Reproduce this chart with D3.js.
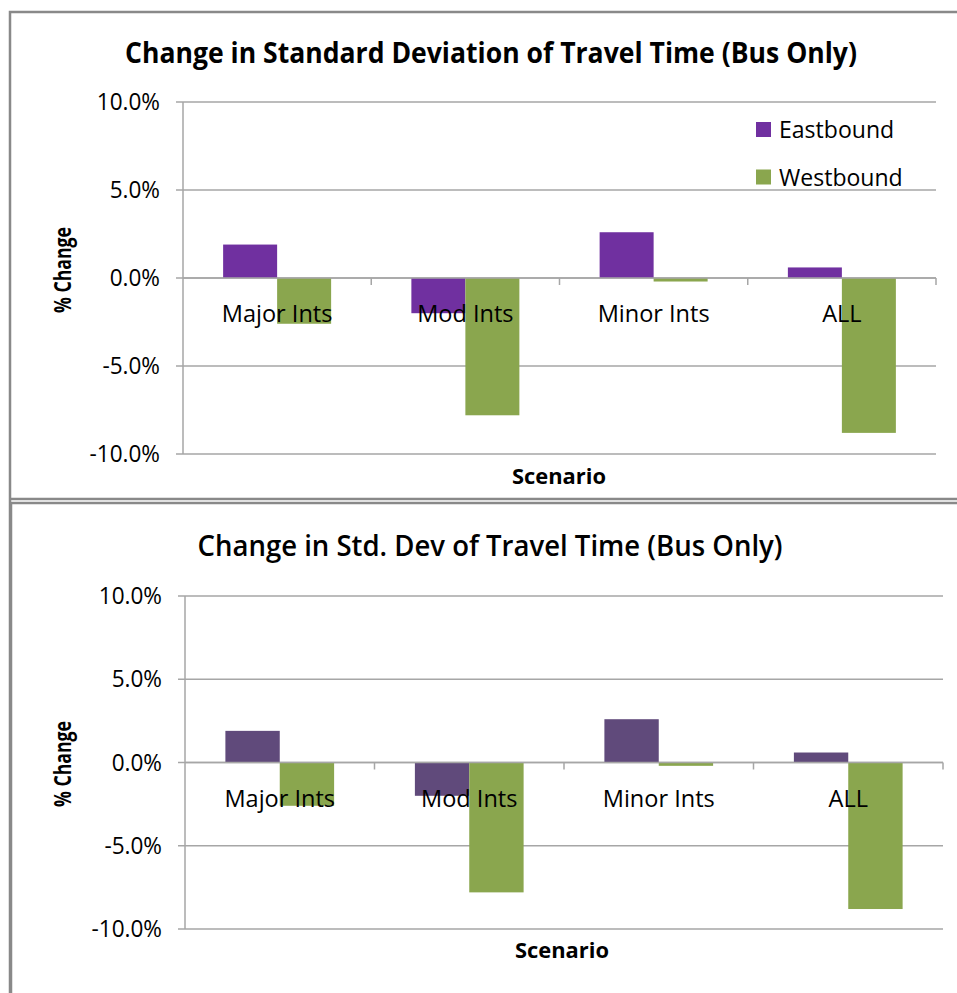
<!DOCTYPE html>
<html>
<head>
<meta charset="utf-8">
<script src="https://cdn.jsdelivr.net/npm/d3@7/dist/d3.min.js"></script>
<style>
  html, body { margin: 0; padding: 0; background: #fff; }
  svg { display: block; }
  text { font-family: "Open Sans", "DejaVu Sans", sans-serif; fill: #000; }
</style>
</head>
<body>
<svg id="chart" width="957" height="993"></svg>
<script>
// ---- Data ----
const categories = ["Major Ints", "Mod Ints", "Minor Ints", "ALL"];
const seriesNames = ["Eastbound", "Westbound"];
const eastbound = [1.9, -2.0, 2.6, 0.6];
const westbound = [-2.6, -7.8, -0.2, -8.8];
const yTicks = [10, 5, 0, -5, -10];
const yDomain = [-10, 10];
const titles = ["Change in Standard Deviation of Travel Time (Bus Only)",
                "Change in Std. Dev of Travel Time (Bus Only)"];
const yAxisTitle = "% Change";
const xAxisTitle = "Scenario";

const svg = d3.select("#chart");
const fmt = d3.formatLocale({ decimal: ".", thousands: ",", grouping: [3], currency: ["", ""], minus: "-" }).format(".1f");

function fit(sel, w) {
  sel.attr("textLength", w).attr("lengthAdjust", "spacingAndGlyphs");
}
function condense(sel, k) {
  sel.each(function () {
    const n = this.getComputedTextLength();
    d3.select(this).attr("textLength", n * k).attr("lengthAdjust", "spacingAndGlyphs");
  });
}

function drawChart(cfg) {
  const g = svg.append("g");
  // frame
  g.append("path")
    .attr("d", cfg.framePath)
    .attr("fill", "none").attr("stroke", "#898989").attr("stroke-width", 2.5);

  const x0 = d3.scaleBand().domain(categories).range([cfg.left, cfg.right]).paddingInner(0).paddingOuter(0);
  const inner = d3.scaleBand().domain(seriesNames).range([0, x0.bandwidth()]).paddingInner(0).paddingOuter(0.743);
  const y = d3.scaleLinear().domain(yDomain).range([cfg.bottom, cfg.top]);

  // gridlines
  g.append("g").selectAll("line").data(yTicks).join("line")
    .attr("x1", cfg.left - 7).attr("x2", cfg.right)
    .attr("y1", d => y(d)).attr("y2", d => y(d))
    .attr("stroke", "#a6a6a6").attr("stroke-width", 1.5);

  // y axis line
  g.append("line").attr("x1", cfg.left).attr("x2", cfg.left)
    .attr("y1", cfg.top).attr("y2", cfg.bottom)
    .attr("stroke", "#a6a6a6").attr("stroke-width", 1.5);

  // y tick labels
  const yl = g.append("g").selectAll("text").data(yTicks).join("text")
    .attr("x", cfg.left - 23).attr("y", d => y(d) + 8)
    .attr("text-anchor", "end").attr("font-size", 23)
    .text(d => fmt(d) + "%");
  condense(yl, 0.98);

  // bars
  const data = categories.map((c, i) => ({ c, vals: [eastbound[i], westbound[i]] }));
  const cg = g.append("g").selectAll("g").data(data).join("g")
    .attr("transform", d => `translate(${x0(d.c)},0)`);
  cg.selectAll("rect").data(d => d.vals.map((v, j) => ({ v, s: seriesNames[j] }))).join("rect")
    .attr("x", d => inner(d.s))
    .attr("width", inner.bandwidth())
    .attr("y", d => y(Math.max(0, d.v)))
    .attr("height", d => Math.abs(y(d.v) - y(0)))
    .attr("fill", d => cfg.colors[d.s]);

  // x axis ticks at category boundaries
  const bounds = categories.map(c => x0(c) + x0.bandwidth());
  g.append("g").selectAll("line").data(bounds).join("line")
    .attr("x1", d => d).attr("x2", d => d)
    .attr("y1", y(0)).attr("y2", y(0) + 7)
    .attr("stroke", "#a6a6a6").attr("stroke-width", 1.5);
  g.append("line").attr("x1", cfg.left).attr("x2", cfg.right)
    .attr("y1", y(0)).attr("y2", y(0))
    .attr("stroke", "#a6a6a6").attr("stroke-width", 1.5);

  // category labels
  const cl = g.append("g").selectAll("text").data(categories).join("text")
    .attr("x", c => x0(c) + x0.bandwidth() / 2)
    .attr("y", y(0) + cfg.catOffset)
    .attr("text-anchor", "middle").attr("font-size", 24)
    .text(c => c);
  condense(cl, 0.98);

  // title
  const t = g.append("text").attr("x", cfg.titleX).attr("y", cfg.titleY)
    .attr("text-anchor", "middle").attr("font-size", 29).attr("font-weight", cfg.titleWeight)
    .text(cfg.title);
  fit(t, cfg.titleW);

  // axis titles
  const yt = g.append("text")
    .attr("transform", `translate(${cfg.yTitleX},${cfg.yTitleY}) rotate(-90)`)
    .attr("text-anchor", "middle").attr("font-size", 23).attr("font-weight", "bold")
    .text(yAxisTitle);
  fit(yt, 86);
  const xt = g.append("text").attr("x", cfg.xTitleX).attr("y", cfg.xTitleY)
    .attr("text-anchor", "middle").attr("font-size", 22).attr("font-weight", "bold")
    .text(xAxisTitle);
  fit(xt, 94);

  if (cfg.legend) {
    const lg = g.append("g").selectAll("g").data(seriesNames).join("g")
      .attr("transform", (d, i) => `translate(${cfg.legendX},${cfg.legendY + i * 47.5})`);
    lg.append("rect").attr("x", 0).attr("y", 0).attr("width", 15).attr("height", 15)
      .attr("fill", d => cfg.colors[d]);
    const lt = lg.append("text").attr("x", 23).attr("y", 16).attr("font-size", 24).text(d => d);
    condense(lt, 0.96);
  }
}

drawChart({
  framePath: "M10,999 L10,12 L970,12 M10,499 L970,499",
  left: 183, right: 936, top: 102, bottom: 454,
  colors: { Eastbound: "#7030a0", Westbound: "#8aa64e" },
  catOffset: 44,
  title: titles[0], titleX: 491, titleY: 63, titleW: 732, titleWeight: "bold",
  yTitleX: 71, yTitleY: 270, xTitleX: 559, xTitleY: 484,
  legend: true, legendX: 756, legendY: 122
});

drawChart({
  framePath: "M11,1000 L11,503 L970,503",
  left: 185, right: 943, top: 596, bottom: 929,
  colors: { Eastbound: "#604a7b", Westbound: "#8aa64e" },
  catOffset: 44,
  title: titles[1], titleX: 490, titleY: 556, titleW: 585, titleWeight: 600,
  yTitleX: 71, yTitleY: 764, xTitleX: 562, xTitleY: 958,
  legend: false
});
</script>
</body>
</html>
